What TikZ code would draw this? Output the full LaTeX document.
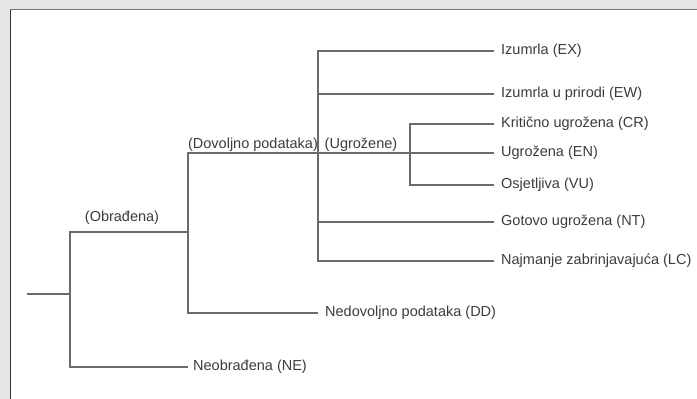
\documentclass[tikz,border=0pt]{standalone}
\usepackage{fontspec}
\setmainfont{Liberation Sans}
\definecolor{bggray}{HTML}{E5E5E5}
\definecolor{framegray}{HTML}{7A7A7A}
\definecolor{linegray}{HTML}{6A6A6A}
\definecolor{textgray}{HTML}{3C3C3C}
\newcommand{\lablfont}{\fontsize{14.5}{17}\selectfont}
\tikzset{
  branch/.style={draw=linegray, line width=1.6pt, line cap=rect},
  leaf/.style={anchor=west, inner xsep=8pt, inner ysep=0pt, text=textgray, font=\lablfont},
  grp/.style={anchor=south, inner sep=1pt, text=textgray, font=\lablfont},
}
\begin{document}
\begin{tikzpicture}[x=1pt,y=-1pt]
\useasboundingbox (0,0) rectangle (697,399);
% frame
\fill[bggray] (0,0) rectangle (697,399);
\fill[white] (10,10) rectangle (697,399);
\draw[framegray, line width=1.6pt] (10,9.6) -- (697,9.6);
\draw[black!80, line width=1pt] (10.3,9.6) -- (10.3,399);

% junction coordinates
\coordinate (r0) at (28,294);
\coordinate (r)  at (70,294);
\coordinate (rT) at (70,232);
\coordinate (rB) at (70,367);
\coordinate (d)  at (188,232);
\coordinate (dT) at (188,153);
\coordinate (dB) at (188,313);
\coordinate (m)  at (318,153);
\coordinate (mT) at (318,51);
\coordinate (mB) at (318,261);
\coordinate (u)  at (410,153);
\coordinate (uT) at (410,124);
\coordinate (uB) at (410,185);

% leaves
\node[leaf] (EX) at (493,51)  {Izumrla (EX)};
\node[leaf] (EW) at (493,94)  {Izumrla u prirodi (EW)};
\node[leaf] (CR) at (493,124) {Kritično ugrožena (CR)};
\node[leaf] (EN) at (493,153) {Ugrožena (EN)};
\node[leaf] (VU) at (493,185) {Osjetljiva (VU)};
\node[leaf] (NT) at (493,222) {Gotovo ugrožena (NT)};
\node[leaf] (LC) at (493,261) {Najmanje zabrinjavajuća (LC)};
\node[leaf] (DD) at (317,313) {Nedovoljno podataka (DD)};
\node[leaf, inner xsep=6pt] (NE) at (187,367) {Neobrađena (NE)};

% group labels
\node[grp] (gObr) at (122,226) {(Obrađena)};
\node[grp] (gDov) at (253,153) {(Dovoljno podataka)};
\node[grp] (gUgr) at (361,153) {(Ugrožene)};

% connectors
\draw[branch] (r0) -- (r);
\draw[branch] (rT) -- (rB);
\draw[branch] (rT) -- (d);
\draw[branch] (rB) -- (NE.west);
\draw[branch] (d) -- (dB);
\draw[branch] (dT) -- (d);
\draw[branch] (dB) -- (DD.west);
\draw[branch] (dT) -- (m);
\draw[branch] (mT) -- (mB);
\draw[branch] (mT) -- (EX.west);
\draw[branch] (mT |- EW.west) -- (EW.west);
\draw[branch] (m) -- (u);
\draw[branch] (uT) -- (uB);
\draw[branch] (uT) -- (CR.west);
\draw[branch] (u) -- (EN.west);
\draw[branch] (uB) -- (VU.west);
\draw[branch] (mT |- NT.west) -- (NT.west);
\draw[branch] (mB) -- (LC.west);
\end{tikzpicture}
\end{document}
